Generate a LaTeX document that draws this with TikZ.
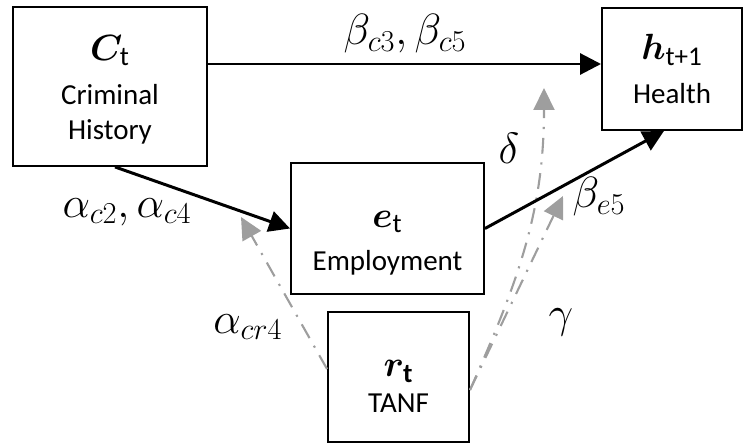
\documentclass[tikz,border=0pt]{standalone}
\usepackage{amsmath}
\usepackage{bm}
\usepackage{fontspec}
\setmainfont{Carlito}
\usetikzlibrary{arrows.meta, positioning, calc}
\definecolor{effgray}{RGB}{158,158,158}
\newcommand{\varsym}[1]{{\fontsize{22}{24}\selectfont$#1$}}
\tikzset{
    varbox/.style={
        rectangle,
        draw=black,
        line width=1.1pt,
        fill=white,
        align=center,
        inner sep=0pt,
        font=\fontsize{16.5}{20}\selectfont
    },
    arrow/.style={
        -{Triangle[length=0.42cm, width=0.42cm]},
        line width=1.7pt,
        color=black
    },
    % dash-dot paths of TANF
    effarrow/.style={
        -{Triangle[length=0.44cm, width=0.42cm]},
        line width=1.2pt,
        color=effgray,
        dash pattern=on 9pt off 5pt on 1.2pt off 5pt
    },
    coef/.style={
        inner sep=0pt,
        font=\fontsize{24}{26}\selectfont
    },
}
\begin{document}
\begin{tikzpicture}
    \useasboundingbox (0,0) rectangle (14.92,8.86);

    \node[varbox, minimum width=3.88cm, minimum height=3.18cm] (crim) at (2.2,7.13) {\varsym{\rule{0pt}{18pt}\bm{C}_{\text{t}}}\\[5pt]Criminal\\History};
    \node[varbox, minimum width=2.80cm, minimum height=2.44cm] (health) at (13.44,7.48) {\varsym{\bm{h}_{\text{t+1}}}\\[5pt]Health};
    \node[varbox, minimum width=3.86cm, minimum height=2.62cm] (empl) at (7.75,4.29) {\varsym{\rule{0pt}{26pt}\bm{e}_{\text{t}}}\\[5pt]Employment};
    \node[varbox, minimum width=2.82cm, minimum height=2.60cm] (tanf) at (7.97,1.32) {\varsym{\rule{0pt}{20pt}\bm{r}_{\textbf{t}}}\\[0pt]TANF};

    % free ends of the TANF paths
    \coordinate (acr) at (4.82,4.52);
    \coordinate (gam) at (11.26,4.94);
    \coordinate (del) at (10.88,7.10);

    \draw[effarrow] ([yshift=0.16cm]tanf.west) -- (acr);
    \draw[effarrow] ([yshift=-0.26cm]tanf.east) -- (gam);
    \draw[effarrow] ([yshift=-0.26cm]tanf.east) to[out=66, in=-90] (del);

    \draw[arrow] ([yshift=0.45cm]crim.east) -- ([yshift=0.45cm]crim.east -| health.west);
    \draw[arrow] ([xshift=0.1cm]crim.south) -- (empl.west);
    \draw[arrow] (empl.east) -- ([xshift=-0.16cm]health.south);

    \node[coef] (bc) at (8.1,8.18) {$\beta_{c3}, \beta_{c5}$};
    \node[coef] (ac) at (2.54,4.62) {$\alpha_{c2}, \alpha_{c4}$};
    \node[coef] (dl) at (10.18,5.90) {$\delta$};
    \node[coef] (be) at (11.98,4.92) {$\beta_{e5}$};
    \node[coef] (acr4) at (4.96,2.32) {$\alpha_{cr4}$};
    \node[coef] (gm) at (11.22,2.42) {$\gamma$};
\end{tikzpicture}
\end{document}
